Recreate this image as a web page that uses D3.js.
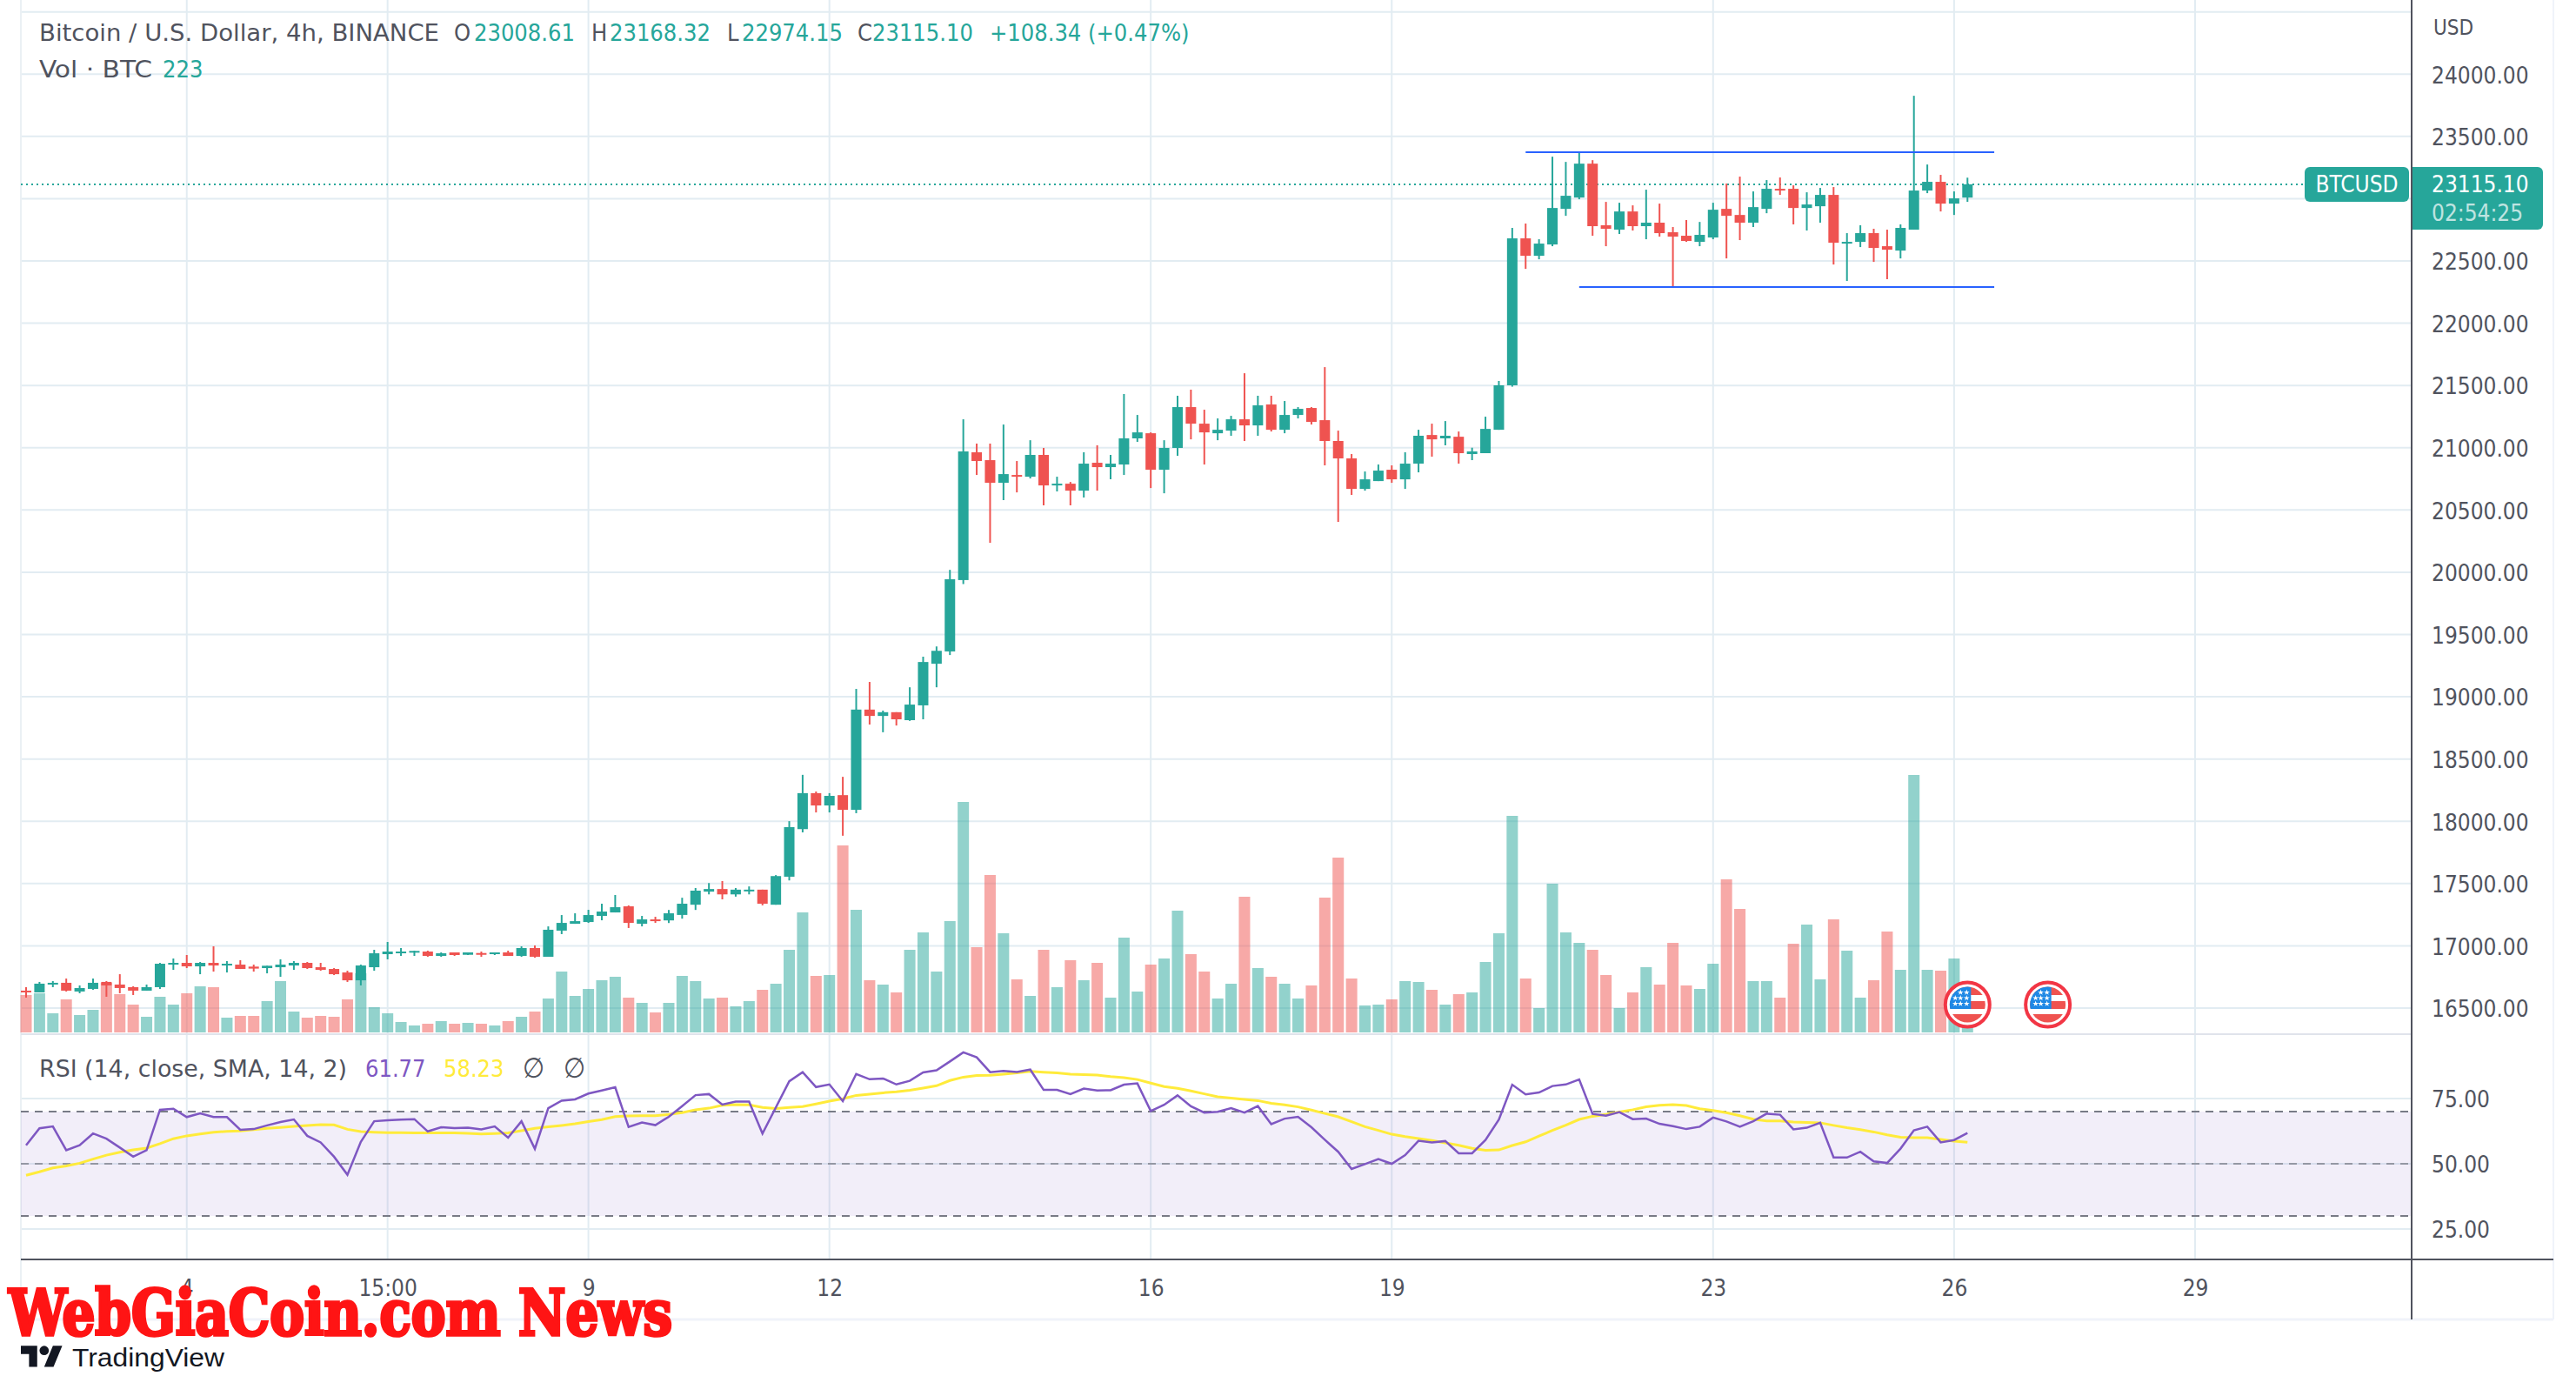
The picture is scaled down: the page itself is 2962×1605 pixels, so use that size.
<!DOCTYPE html>
<html>
<head>
<meta charset="utf-8">
<title>BTCUSD 4h</title>
<script src="https://cdn.jsdelivr.net/npm/d3@7"></script>
<style>
    html, body { margin: 0; padding: 0; background: #fff; }
    svg { display: block; }
    text { font-family: "DejaVu Sans Condensed", "DejaVu Sans", sans-serif; font-stretch: condensed; }
</style>
</head>
<body>
<svg id="chart" width="2962" height="1605"></svg>
<script>
const opens = [
    16640,16626,16689,16703,16633,16654,16710,16689,16668,16640,
    16668,16849,16863,16835,16863,16842,16849,16833,16821,16828,
    16842,16863,16828,16814,16786,16723,16828,16933,16940,16945,
    16954,16919,16947,16928,16942,16933,16947,16919,16982,16912,
    17122,17177,17191,17240,17268,17317,17177,17212,17204,17248,
    17330,17435,17456,17413,17443,17451,17330,17555,17937,18226,
    18127,18210,18092,18897,18846,18876,18812,18931,19265,19364,
    19937,20963,20900,20718,20781,20767,20942,20697,20711,20655,
    20879,20844,20865,21075,21116,20823,20998,21326,21193,21116,
    21137,21228,21179,21347,21144,21263,21319,21221,21054,20914,
    20669,20732,20823,20746,20872,21102,21075,21088,20949,20956,
    21144,21501,22681,22541,22632,22918,23009,23281,22786,22751,
    22897,22779,22807,22730,22702,22653,22688,22918,22869,22807,
    22918,23079,23079,22925,22939,23030,22639,22653,22723,22618,
    22583,22751,23065,23135,22960,23008.61
];
const highs = [
    16668,16710,16717,16737,16682,16737,16717,16772,16675,16689,
    16863,16898,16926,16870,16996,16877,16884,16849,16840,16891,
    16877,16870,16863,16821,16800,16849,16968,17031,16982,16961,
    16961,16947,16947,16947,16954,16947,16961,16996,17003,17156,
    17247,17261,17289,17338,17408,17324,17240,17233,17288,17386,
    17464,17504,17520,17464,17477,17451,17568,18001,18373,18239,
    18226,18357,19063,19119,18889,18876,19076,19322,19404,20019,
    21228,21033,21033,21186,20893,21060,20998,20767,20725,20963,
    21019,20942,21431,21263,21123,21060,21417,21466,21305,21235,
    21256,21598,21417,21417,21375,21326,21326,21647,21137,20949,
    20809,20865,20858,20963,21144,21193,21214,21130,21000,21249,
    21536,22765,22800,22674,23337,23295,23372,23309,22974,22967,
    22946,23072,22960,22772,22828,22813,22967,23121,23177,23058,
    23149,23170,23107,23051,23086,23093,22723,22786,22758,22751,
    22793,23826,23274,23191,23058,23168.32
];
const lows = [
    16584,16626,16668,16633,16619,16647,16591,16619,16605,16640,
    16654,16807,16821,16772,16793,16786,16814,16793,16779,16751,
    16807,16814,16800,16765,16710,16682,16800,16891,16919,16919,
    16912,16912,16919,16926,16912,16926,16919,16912,16905,16912,
    17094,17177,17184,17205,17268,17143,17156,17184,17183,17218,
    17288,17413,17373,17395,17413,17325,17330,17525,17911,18071,
    18071,17884,18065,18777,18715,18769,18806,18819,19076,19335,
    19905,20781,20236,20579,20641,20753,20537,20649,20537,20600,
    20655,20746,20781,21047,20676,20634,20935,21067,20865,21060,
    21096,21054,21096,21130,21116,21235,21186,20858,20404,20621,
    20655,20732,20718,20669,20802,20928,21019,20872,20900,20956,
    21144,21490,22436,22513,22618,22862,22995,22702,22618,22716,
    22744,22674,22695,22297,22653,22618,22674,22520,22667,22772,
    22883,23030,22793,22744,22807,22471,22339,22611,22492,22353,
    22520,22751,23044,22897,22869,22974.15
];
const closes = [
    16626,16696,16703,16640,16661,16703,16682,16661,16640,16668,
    16856,16863,16835,16863,16842,16856,16814,16817,16840,16849,
    16863,16821,16807,16772,16723,16842,16940,16954,16954,16959,
    16919,16940,16926,16947,16931,16947,16919,16982,16912,17129,
    17184,17198,17247,17275,17310,17184,17212,17198,17261,17338,
    17443,17456,17413,17451,17451,17338,17560,17953,18226,18127,
    18204,18092,18897,18846,18876,18819,18937,19279,19369,19944,
    20970,20893,20718,20788,20767,20942,20697,20711,20655,20872,
    20844,20872,21075,21123,20823,20998,21326,21193,21123,21144,
    21228,21179,21340,21144,21263,21312,21207,21054,20914,20669,
    20746,20816,20746,20872,21096,21067,21096,20956,20970,21151,
    21501,22681,22541,22639,22925,23023,23281,22779,22758,22897,
    22779,22807,22723,22695,22660,22709,22911,22862,22807,22932,
    23079,23065,22925,22953,23030,22646,22653,22723,22604,22590,
    22765,23065,23135,22960,23002,23115.10
];
const volumes = [
    430,450,220,380,200,260,570,440,320,180,
    410,320,450,530,520,170,190,190,360,590,
    240,170,190,180,380,680,290,220,120,80,
    100,130,100,110,100,80,130,180,240,390,
    700,420,500,600,640,400,340,230,340,650,
    590,390,400,300,360,490,560,950,1380,650,
    660,2150,1410,600,550,460,950,1150,700,1280,
    2650,980,1810,1140,610,420,950,520,830,600,
    800,400,1090,470,780,850,1400,900,700,390,
    560,1560,740,640,560,390,540,1550,2010,620,
    310,320,380,590,580,490,320,440,460,810,
    1140,2490,620,280,1710,1150,1030,950,660,280,
    460,750,550,1030,540,500,790,1760,1420,590,
    590,400,1020,1240,610,1300,940,400,600,1160,
    720,2960,720,710,850,223
];
const rsiValues = [
    57.1,63.6,64.3,55.2,57.1,61.6,59.6,56.2,52.7,55.2,
    70.7,71.1,67.9,69.3,67.9,67.9,63.0,63.3,64.7,66.0,
    67.0,60.7,58.2,52.7,45.8,58.4,66.3,66.7,66.9,67.1,
    62.4,64.0,63.7,63.8,63.2,64.3,60.0,66.3,55.7,71.3,
    74.2,74.7,76.9,78.1,79.3,64.1,65.8,64.8,68.0,72.1,
    76.3,76.7,72.7,73.8,73.8,61.6,71.6,81.6,85.1,79.4,
    80.4,74.0,84.4,82.4,82.7,80.4,81.8,85.0,85.8,89.2,
    92.7,90.8,85.1,85.6,85.2,86.1,78.3,78.3,76.7,78.8,
    78.1,78.2,80.3,80.8,70.2,72.6,76.2,72.0,69.6,69.9,
    71.3,69.6,72.1,65.2,67.3,68.0,64.0,59.2,54.6,48.0,
    49.9,51.8,50.0,53.3,58.8,58.2,58.7,54.0,54.0,59.1,
    66.9,80.3,76.6,77.3,79.8,80.4,82.3,69.1,68.4,69.8,
    67.1,67.3,65.3,64.4,63.3,64.2,67.7,66.2,64.2,66.3,
    69.2,68.8,63.2,63.8,65.7,52.4,52.4,54.6,50.9,50.3,
    55.8,62.8,64.2,58.2,59.1,61.77
];
const rsiMa = [
    45.6,46.9,48.4,49.2,50.2,51.8,53.3,54.4,55.3,56.0,
    57.7,59.6,60.7,61.4,62.1,62.4,62.6,63.1,63.6,63.9,
    64.3,64.7,65.0,64.9,63.2,62.3,62.1,61.9,61.9,61.8,
    61.8,61.8,61.8,61.7,61.4,61.6,61.8,62.7,63.6,64.2,
    64.7,65.3,66.2,66.9,68.1,68.3,68.4,68.4,68.9,69.6,
    70.7,71.3,72.4,72.7,72.6,71.6,71.2,71.6,71.9,72.9,
    74.0,74.9,76.2,76.7,77.2,77.6,78.2,79.0,79.9,81.9,
    83.2,83.8,83.9,84.3,84.8,85.4,85.1,84.8,84.3,84.2,
    84.0,83.4,83.0,82.3,80.9,79.6,78.9,77.9,76.8,75.7,
    75.2,74.7,74.2,73.2,72.6,71.8,70.6,69.3,68.0,66.1,
    64.2,62.8,61.3,60.4,59.7,58.9,58.0,57.1,55.9,55.2,
    55.3,57.0,58.4,60.6,62.8,64.8,67.0,68.2,68.9,69.8,
    70.7,71.8,72.4,72.7,72.3,71.1,70.4,69.6,68.4,67.1,
    66.4,66.4,66.0,65.8,65.7,64.7,63.8,63.1,62.2,61.1,
    60.2,60.0,60.0,59.3,58.7,58.23
];

const priceTicks = [16500,17000,17500,18000,18500,19000,19500,20000,20500,21000,21500,22000,22500,23000,23500,24000];
const priceGrid = priceTicks.concat([24500]);
const rsiTicks = [25, 50, 75];
const rsiLevels = [70, 50, 30];
const dateTicks = [12, 27, 42, 60, 84, 102, 126, 144, 162];
const dateLabels = ["4", "15:00", "9", "12", "16", "19", "23", "26", "29"];
const flagCandles = [145, 151];
const channelTop = {price: 23373, from: 112, to: 147};
const channelBottom = {price: 22290, from: 116, to: 147};

const UP = "#26a69a";
const DOWN = "#ef5350";
const TEXT = "#50535e";
const GRID = "#e2ecf2";
const FONT_SIZE = 26;
const LEGEND_SIZE = 27;

const plotLeft = 24, axisX = 2773, chartRight = 2936, axisY = 1448, chartBottom = 1517;
const bodyWidth = 12, volWidth = 13;

const candles = opens.map((o, i) => ({i, o, h: highs[i], l: lows[i], c: closes[i], v: volumes[i]}));
const lastClose = closes[closes.length - 1];

const x = d3.scaleLinear().domain([0, 162]).range([30, 2524]);
const y = d3.scaleLinear().domain([16500, 23500]).range([1159, 156.8]);
const yVol = d3.scaleLinear().domain([0, 3000]).range([1187, 887]);
const yRsi = d3.scaleLinear().domain([30, 70]).range([1398, 1278]);
const color = d => d.c >= d.o ? UP : DOWN;

const svg = d3.select("#chart");

// grid
const grid = svg.append("g");
grid.selectAll(".h").data(priceGrid).join("line")
    .attr("x1", plotLeft).attr("x2", axisX)
    .attr("y1", d => y(d)).attr("y2", d => y(d))
    .attr("stroke", GRID).attr("stroke-width", 2);
grid.selectAll(".r").data(rsiTicks).join("line")
    .attr("x1", plotLeft).attr("x2", axisX)
    .attr("y1", d => yRsi(d)).attr("y2", d => yRsi(d))
    .attr("stroke", GRID).attr("stroke-width", 2);
grid.selectAll(".v").data(dateTicks).join("line")
    .attr("x1", d => x(d)).attr("x2", d => x(d))
    .attr("y1", 0).attr("y2", axisY)
    .attr("stroke", GRID).attr("stroke-width", 2);

// frame
svg.append("line").attr("x1", plotLeft).attr("x2", plotLeft).attr("y1", 0).attr("y2", chartBottom)
    .attr("stroke", "#ebf0f4").attr("stroke-width", 2);
svg.append("line").attr("x1", chartRight).attr("x2", chartRight).attr("y1", 0).attr("y2", chartBottom)
    .attr("stroke", "#f0f3fa").attr("stroke-width", 2);
svg.append("line").attr("x1", plotLeft).attr("x2", chartRight).attr("y1", chartBottom).attr("y2", chartBottom)
    .attr("stroke", "#f0f3fa").attr("stroke-width", 3);
svg.append("line").attr("x1", plotLeft).attr("x2", axisX).attr("y1", 1189).attr("y2", 1189)
    .attr("stroke", "#e0e3eb").attr("stroke-width", 2);

// volume
svg.append("g").selectAll("rect").data(candles).join("rect")
    .attr("x", d => x(d.i) - volWidth / 2)
    .attr("width", volWidth)
    .attr("y", d => yVol(d.v))
    .attr("height", d => yVol(0) - yVol(d.v))
    .attr("fill", color)
    .attr("opacity", 0.5);

// last price line
svg.append("line")
    .attr("x1", plotLeft).attr("x2", 2650)
    .attr("y1", y(lastClose)).attr("y2", y(lastClose))
    .attr("stroke", UP).attr("stroke-width", 2).attr("stroke-dasharray", "2,4");

// candles
const candle = svg.append("g").selectAll("g").data(candles).join("g");
candle.append("line")
    .attr("x1", d => x(d.i)).attr("x2", d => x(d.i))
    .attr("y1", d => y(d.h)).attr("y2", d => y(d.l))
    .attr("stroke", color).attr("stroke-width", 2);
candle.append("rect")
    .attr("x", d => x(d.i) - bodyWidth / 2)
    .attr("width", bodyWidth)
    .attr("y", d => y(Math.max(d.o, d.c)))
    .attr("height", d => Math.max(2, Math.abs(y(d.o) - y(d.c))))
    .attr("fill", color);

// channel drawn on the chart
[channelTop, channelBottom].forEach(c => {
    svg.append("line")
        .attr("x1", x(c.from)).attr("x2", x(c.to))
        .attr("y1", y(c.price)).attr("y2", y(c.price))
        .attr("stroke", "#2962ff").attr("stroke-width", 2);
});

// RSI pane
svg.append("rect")
    .attr("x", plotLeft).attr("width", axisX - plotLeft)
    .attr("y", yRsi(70)).attr("height", yRsi(30) - yRsi(70))
    .attr("fill", "#7e57c2").attr("opacity", 0.1);
svg.append("g").selectAll("line").data(rsiLevels).join("line")
    .attr("x1", plotLeft).attr("x2", axisX)
    .attr("y1", d => yRsi(d)).attr("y2", d => yRsi(d))
    .attr("stroke", "#787b86").attr("stroke-width", 2)
    .attr("stroke-dasharray", "9,7")
    .attr("opacity", d => d === 50 ? 0.7 : 1);

const line = d3.line().x((d, i) => x(i)).y(d => yRsi(d));
svg.append("path").datum(rsiMa)
    .attr("d", line).attr("fill", "none")
    .attr("stroke", "#ffeb3b").attr("stroke-width", 3);
svg.append("path").datum(rsiValues)
    .attr("d", line).attr("fill", "none")
    .attr("stroke", "#7e57c2").attr("stroke-width", 2.5);

// x axis band
svg.append("line").attr("x1", plotLeft).attr("x2", chartRight).attr("y1", axisY).attr("y2", axisY)
    .attr("stroke", TEXT).attr("stroke-width", 2);
svg.append("line").attr("x1", axisX).attr("x2", axisX).attr("y1", 0).attr("y2", chartBottom)
    .attr("stroke", TEXT).attr("stroke-width", 2);

// axes
const styleAxis = g => {
    g.select(".domain").remove();
    g.selectAll(".tick line").remove();
    g.selectAll("text").attr("fill", TEXT).attr("font-size", FONT_SIZE);
};
svg.append("g")
    .attr("transform", "translate(2796,1.5)")
    .call(d3.axisRight(y).tickValues(priceTicks).tickFormat(d3.format(".2f")).tickSize(0).tickPadding(0))
    .call(styleAxis);
svg.append("g")
    .attr("transform", "translate(2796,1)")
    .call(d3.axisRight(yRsi).tickValues(rsiTicks).tickFormat(d3.format(".2f")).tickSize(0).tickPadding(0))
    .call(styleAxis);
svg.append("g")
    .attr("transform", "translate(0,1472)")
    .call(d3.axisBottom(x).tickValues(dateTicks).tickFormat((d, i) => dateLabels[i]).tickSize(0).tickPadding(0))
    .call(styleAxis);

const label = (txt, px, py, fill, size) => svg.append("text")
    .attr("x", px).attr("y", py)
    .attr("fill", fill || TEXT)
    .attr("font-size", size || FONT_SIZE)
    .text(txt);
// legend captions run wider in the reference than any installed font
const fitted = (txt, px, py, len) => label(txt, px, py, TEXT, LEGEND_SIZE)
    .attr("textLength", len).attr("lengthAdjust", "spacingAndGlyphs");

label("USD", 2798, 40, TEXT, 24);

// last price tags
svg.append("rect").attr("x", 2650).attr("y", 192).attr("width", 120).attr("height", 40).attr("rx", 6).attr("fill", UP);
svg.append("rect").attr("x", 2774).attr("y", 192).attr("width", 150).attr("height", 72).attr("rx", 6).attr("fill", UP);
svg.append("rect").attr("x", 2774).attr("y", 192).attr("width", 10).attr("height", 72).attr("fill", UP);
label("BTCUSD", 2710, 221, "#fff").attr("text-anchor", "middle");
label(d3.format(".2f")(lastClose), 2796, 221, "#fff");
label("02:54:25", 2796, 254, "#fff").attr("opacity", 0.7);

// legends
const ohlc = [
    ["O", 522, TEXT], [opens[145].toFixed(2), 545, UP],
    ["H", 680, TEXT], [highs[145].toFixed(2), 701, UP],
    ["L", 836, TEXT], [lows[145].toFixed(2), 853, UP],
    ["C", 986, TEXT], [closes[145].toFixed(2), 1003, UP],
    ["+108.34 (+0.47%)", 1138, UP]
];
fitted("Bitcoin / U.S. Dollar, 4h, BINANCE", 45, 47, 460);
ohlc.forEach(d => label(d[0], d[1], 47, d[2], LEGEND_SIZE));
fitted("Vol · BTC", 45, 89, 130);
label("223", 187, 89, UP, LEGEND_SIZE);
fitted("RSI (14, close, SMA, 14, 2)", 45, 1238, 354);
label("61.77", 420, 1238, "#7e57c2", LEGEND_SIZE);
label("58.23", 510, 1238, "#ffeb3b", LEGEND_SIZE);
label("∅", 601, 1239, TEXT, 32);
label("∅", 648, 1239, TEXT, 32);

// earnings style flags
const stars = [[-8, -14], [-1, -14], [-14, -7.5], [-8, -7.5], [-1, -7.5], [-14, -1], [-8, -1], [-1, -1]];
const star = d3.symbol().type(d3.symbolStar).size(14);
const defs = svg.append("defs");
defs.append("clipPath").attr("id", "flagClip").append("circle").attr("r", 20.5);
const flag = svg.append("g").selectAll("g").data(flagCandles).join("g")
    .attr("transform", d => "translate(" + x(d) + ",1155)");
flag.append("circle").attr("r", 25.5).attr("fill", "#fff").attr("stroke", "#f23645").attr("stroke-width", 4);
const flagBody = flag.append("g").attr("clip-path", "url(#flagClip)");
[[-21, -11], [-4, 5], [11, 21]].forEach(s => {
    flagBody.append("rect").attr("x", -21).attr("y", s[0]).attr("width", 42).attr("height", s[1] - s[0]).attr("fill", DOWN);
});
flagBody.append("rect").attr("x", -21).attr("y", -21).attr("width", 25).attr("height", 26).attr("fill", "#1e88e5");
stars.forEach(s => {
    flagBody.append("path").attr("d", star()).attr("transform", "translate(" + s[0] + "," + s[1] + ")").attr("fill", "#fff");
});

// watermark and logo
svg.append("text")
    .attr("x", 10).attr("y", 1535)
    .attr("fill", "#ff1414").attr("stroke", "#ff1414").attr("stroke-width", 3.5)
    .attr("font-size", 72).attr("font-weight", 700)
    .attr("textLength", 763).attr("lengthAdjust", "spacingAndGlyphs")
    .style("font-family", "'DejaVu Serif', serif").style("font-stretch", "condensed")
    .text("WebGiaCoin.com News");

svg.append("g").attr("transform", "translate(24,1542) scale(1.34)")
    .append("path")
    .attr("d", "M14 22H7V11H0V4h14v18zM28 22h-8l7.5-18h8L28 22z")
    .attr("fill", "#131722");
svg.append("circle").attr("cx", 24 + 20 * 1.34).attr("cy", 1542 + 8 * 1.34).attr("r", 4 * 1.34).attr("fill", "#131722");
svg.append("text")
    .attr("x", 83).attr("y", 1571)
    .attr("fill", "#131722").attr("font-size", 29)
    .attr("textLength", 175).attr("lengthAdjust", "spacingAndGlyphs")
    .style("font-family", "'Liberation Sans', sans-serif").style("font-stretch", "normal")
    .text("TradingView");
</script>
</body>
</html>
